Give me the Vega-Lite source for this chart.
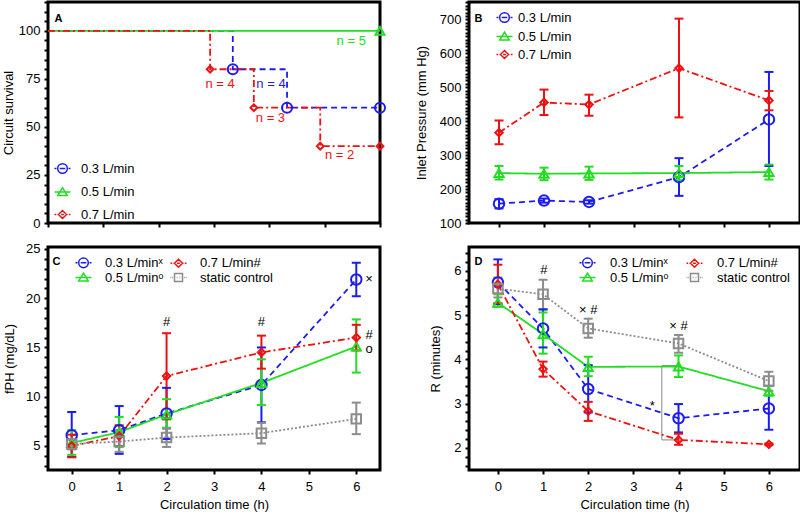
{
  "$schema": "https://vega.github.io/schema/vega-lite/v6.json",
  "background": "white",
  "padding": {"left": 0, "top": -6, "right": 0, "bottom": 0},
  "config": {
    "font": "Liberation Sans",
    "view": {"stroke": "black", "strokeWidth": 3},
    "axis": {"domain": false, "grid": false, "tickColor": "black", "tickWidth": 2, "tickSize": 4, "labelFontSize": 13, "titleFontSize": 13, "titleFontWeight": "normal", "labelColor": "black", "titleColor": "black", "labelFont": "Liberation Sans", "titleFont": "Liberation Sans", "labelPadding": 4, "labelOverlap": false, "labelFlush": false, "labelBound": false},
    "axisX": {"labelPadding": 6, "titlePadding": 5},
    "legend": {"padding": 0, "labelFontSize": 13, "labelFont": "Liberation Sans", "labelColor": "black", "symbolSize": 64, "symbolStrokeWidth": 1.5}
  },
  "datasets": {
    "A_surv": [
      {"s": "0.3 L/min", "t": 0, "v": 100, "ev": false},
      {"s": "0.3 L/min", "t": 3.34, "v": 80, "ev": true},
      {"s": "0.3 L/min", "t": 4.32, "v": 60, "ev": true},
      {"s": "0.3 L/min", "t": 6, "v": 60, "ev": true},
      {"s": "0.5 L/min", "t": 0, "v": 100, "ev": false},
      {"s": "0.5 L/min", "t": 6, "v": 100, "ev": true},
      {"s": "0.7 L/min", "t": 0, "v": 100, "ev": false},
      {"s": "0.7 L/min", "t": 2.93, "v": 80, "ev": true},
      {"s": "0.7 L/min", "t": 3.72, "v": 60, "ev": true},
      {"s": "0.7 L/min", "t": 4.92, "v": 40, "ev": true},
      {"s": "0.7 L/min", "t": 6, "v": 40, "ev": true}
    ],
    "A_txt": [
      {"s": "0.5 L/min", "t": 5.48, "v": 94.7, "txt": "n = 5"},
      {"s": "0.7 L/min", "t": 3.11, "v": 72.5, "txt": "n = 4"},
      {"s": "0.3 L/min", "t": 4.03, "v": 72.5, "txt": "n = 4"},
      {"s": "0.7 L/min", "t": 4.02, "v": 54.6, "txt": "n = 3"},
      {"s": "0.7 L/min", "t": 5.27, "v": 35.2, "txt": "n = 2"}
    ],
    "B": [
      {"s": "0.3 L/min", "t": 0, "m": 157, "lo": 143, "hi": 170},
      {"s": "0.3 L/min", "t": 1, "m": 166, "lo": 160, "hi": 172},
      {"s": "0.3 L/min", "t": 2, "m": 162, "lo": 157, "hi": 167},
      {"s": "0.3 L/min", "t": 4, "m": 235, "lo": 180, "hi": 291},
      {"s": "0.3 L/min", "t": 6, "m": 405, "lo": 268, "hi": 545},
      {"s": "0.5 L/min", "t": 0, "m": 247, "lo": 228, "hi": 268},
      {"s": "0.5 L/min", "t": 1, "m": 245, "lo": 226, "hi": 263},
      {"s": "0.5 L/min", "t": 2, "m": 246, "lo": 227, "hi": 266},
      {"s": "0.5 L/min", "t": 4, "m": 247, "lo": 226, "hi": 268},
      {"s": "0.5 L/min", "t": 6, "m": 250, "lo": 228, "hi": 272},
      {"s": "0.7 L/min", "t": 0, "m": 366, "lo": 332, "hi": 402},
      {"s": "0.7 L/min", "t": 1, "m": 455, "lo": 418, "hi": 493},
      {"s": "0.7 L/min", "t": 2, "m": 449, "lo": 416, "hi": 478},
      {"s": "0.7 L/min", "t": 4, "m": 556, "lo": 411, "hi": 702},
      {"s": "0.7 L/min", "t": 6, "m": 461, "lo": 432, "hi": 489}
    ],
    "C": [
      {"s": "0.3 L/min", "t": 0, "m": 6.1, "lo": 3.9, "hi": 8.45},
      {"s": "0.3 L/min", "t": 1, "m": 6.6, "lo": 4.2, "hi": 9.05},
      {"s": "0.3 L/min", "t": 2, "m": 8.3, "lo": 5.7, "hi": 10.9},
      {"s": "0.3 L/min", "t": 4, "m": 11.2, "lo": 7.4, "hi": 15.0},
      {"s": "0.3 L/min", "t": 6, "m": 21.9, "lo": 20.2, "hi": 23.6},
      {"s": "0.5 L/min", "t": 0, "m": 5.3, "lo": 4.1, "hi": 6.6},
      {"s": "0.5 L/min", "t": 1, "m": 6.4, "lo": 4.9, "hi": 7.95},
      {"s": "0.5 L/min", "t": 2, "m": 8.2, "lo": 6.85, "hi": 9.75},
      {"s": "0.5 L/min", "t": 4, "m": 11.4, "lo": 9.15, "hi": 13.8},
      {"s": "0.5 L/min", "t": 6, "m": 15.1, "lo": 12.45, "hi": 17.85},
      {"s": "0.7 L/min", "t": 0, "m": 5.0, "lo": 3.85, "hi": 6.15},
      {"s": "0.7 L/min", "t": 1, "m": 6.0, "lo": 5.0, "hi": 7.1},
      {"s": "0.7 L/min", "t": 2, "m": 12.1, "lo": 7.7, "hi": 16.45},
      {"s": "0.7 L/min", "t": 4, "m": 14.5, "lo": 12.85, "hi": 16.2},
      {"s": "0.7 L/min", "t": 6, "m": 16.0, "lo": 14.7, "hi": 17.3},
      {"s": "static control", "t": 0, "m": 5.2, "lo": 4.65, "hi": 5.65},
      {"s": "static control", "t": 1, "m": 5.45, "lo": 4.4, "hi": 6.6},
      {"s": "static control", "t": 2, "m": 5.85, "lo": 4.9, "hi": 6.75},
      {"s": "static control", "t": 4, "m": 6.3, "lo": 5.25, "hi": 7.35},
      {"s": "static control", "t": 6, "m": 7.75, "lo": 6.2, "hi": 9.4}
    ],
    "C_txt": [
      {"t": 2, "m": 17.6, "txt": "#"},
      {"t": 4, "m": 17.6, "txt": "#"},
      {"t": 6.27, "m": 22, "txt": "×"},
      {"t": 6.27, "m": 16.3, "txt": "#"},
      {"t": 6.27, "m": 14.8, "txt": "o"}
    ],
    "D": [
      {"s": "0.3 L/min", "t": 0, "m": 5.74, "lo": 5.25, "hi": 6.26},
      {"s": "0.3 L/min", "t": 1, "m": 4.7, "lo": 4.27, "hi": 5.13},
      {"s": "0.3 L/min", "t": 2, "m": 3.33, "lo": 2.8, "hi": 3.87},
      {"s": "0.3 L/min", "t": 4, "m": 2.67, "lo": 2.35, "hi": 2.99},
      {"s": "0.3 L/min", "t": 6, "m": 2.89, "lo": 2.41, "hi": 3.4},
      {"s": "0.5 L/min", "t": 0, "m": 5.28, "lo": 5.19, "hi": 5.47},
      {"s": "0.5 L/min", "t": 1, "m": 4.57, "lo": 4.13, "hi": 5.06},
      {"s": "0.5 L/min", "t": 2, "m": 3.83, "lo": 3.62, "hi": 4.06},
      {"s": "0.5 L/min", "t": 4, "m": 3.84, "lo": 3.6, "hi": 4.09},
      {"s": "0.5 L/min", "t": 6, "m": 3.28, "lo": 3.18, "hi": 3.4},
      {"s": "0.7 L/min", "t": 0, "m": 5.7, "lo": 5.27, "hi": 6.14},
      {"s": "0.7 L/min", "t": 1, "m": 3.78, "lo": 3.61, "hi": 3.95},
      {"s": "0.7 L/min", "t": 2, "m": 2.83, "lo": 2.61, "hi": 3.04},
      {"s": "0.7 L/min", "t": 4, "m": 2.18, "lo": 2.07, "hi": 2.32},
      {"s": "0.7 L/min", "t": 6, "m": 2.08, "lo": 2.06, "hi": 2.1},
      {"s": "static control", "t": 0, "m": 5.6, "lo": 5.4, "hi": 5.85},
      {"s": "static control", "t": 1, "m": 5.47, "lo": 5.13, "hi": 5.8},
      {"s": "static control", "t": 2, "m": 4.7, "lo": 4.49, "hi": 4.92},
      {"s": "static control", "t": 4, "m": 4.36, "lo": 4.15, "hi": 4.55},
      {"s": "static control", "t": 6, "m": 3.51, "lo": 3.29, "hi": 3.72}
    ],
    "D_txt": [
      {"t": 1.02, "m": 6.02, "txt": "#"},
      {"t": 2, "m": 5.11, "txt": "× #"},
      {"t": 4, "m": 4.76, "txt": "× #"},
      {"t": 3.42, "m": 2.95, "txt": "*"}
    ],
    "D_br": [
      {"t": 4, "m": 3.86, "o": 0},
      {"t": 3.63, "m": 3.86, "o": 1},
      {"t": 3.63, "m": 2.18, "o": 2},
      {"t": 4, "m": 2.18, "o": 3}
    ]
  },
  "columns": 2,
  "spacing": {"row": 24, "column": 89},
  "bounds": "flush",
  "align": "each",
  "resolve": {"scale": {"color": "independent", "fill": "independent", "shape": "independent", "strokeDash": "independent", "size": "independent"}, "legend": {"color": "independent"}},
  "concat": [
    {
      "width": 332, "height": 221,
      "encoding": {
        "x": {"field": "t", "type": "quantitative", "scale": {"domain": [0, 6], "nice": false, "zero": false}, "axis": {"orient": "bottom", "values": [0, 1, 2, 3, 4, 5, 6], "labels": false, "title": null}},
        "y": {"field": "v", "type": "quantitative", "scale": {"domain": [0, 115], "nice": false, "zero": false}, "axis": {"title": "Circuit survival", "titlePadding": 3, "values": [0,5,10,15,20,25,30,35,40,45,50,55,60,65,70,75,80,85,90,95,100,105,110,115], "labelExpr": "datum.value % 25 === 0 ? datum.label : ''"}}
      },
      "layer": [
        {
          "data": {"name": "A_surv"},
          "mark": {"type": "line", "interpolate": "step-after", "strokeWidth": 1.8},
          "encoding": {
            "color": {"field": "s", "type": "nominal", "scale": {"domain": ["0.3 L/min", "0.5 L/min", "0.7 L/min"], "range": ["#1c1cf0", "#22dd22", "#ee1111"]}, "legend": {"title": null, "orient": "none", "legendX": 8, "legendY": 160, "rowPadding": 7.5, "labelOffset": 12, "encode": {"symbols": {"update": {"size": {"value": 64}, "fill": {"value": "transparent"}, "strokeWidth": {"value": 1.5}, "strokeDash": {"value": []}, "shape": {"signal": "datum.value === '0.3 L/min' ? 'M-2,0H-1.5M-1.2,0A1.2,1.2 0 1,1 1.2,0A1.2,1.2 0 1,1 -1.2,0M-0.7,0H0.7M1.5,0H2' : datum.value === '0.5 L/min' ? 'M-2,0H2M0,-1.1L1.2,0.9L-1.2,0.9Z' : datum.value === '0.7 L/min' ? 'M-2,0H-1.6M-1.4,0H-1.3M-1,0L0,-1L1,0L0,1ZM-0.35,0H0.35M1.3,0H1.4M1.6,0H2' : 'M-2,0H-1.8M-1.55,0H-1.35M-1,-1H1V1H-1ZM-0.45,0H-0.25M0.25,0H0.45M1.35,0H1.55M1.8,0H2'"}}}}}},
            "strokeDash": {"field": "s", "type": "nominal", "scale": {"domain": ["0.3 L/min", "0.5 L/min", "0.7 L/min", "~"], "range": [[6, 4], [1, 0], [7, 3, 2, 3], [1, 0]]}, "legend": null}
          }
        },
        {
          "data": {"name": "A_surv"},
          "transform": [{"filter": "datum.ev"}],
          "mark": {"type": "point", "filled": false, "strokeWidth": 2, "opacity": 1},
          "encoding": {
            "x": {"field": "t", "type": "quantitative", "axis": null},
            "color": {"field": "s", "type": "nominal"},
            "shape": {"field": "s", "type": "nominal", "scale": {"domain": ["0.3 L/min", "0.5 L/min", "0.7 L/min", "~"], "range": ["circle", "triangle-up", "diamond", "square"]}, "legend": null},
            "size": {"field": "s", "type": "nominal", "scale": {"type": "ordinal", "domain": ["0.3 L/min", "0.5 L/min", "0.7 L/min", "~"], "range": [100, 80, 45, 80]}, "legend": null}
          }
        },
        {
          "data": {"name": "A_txt"},
          "mark": {"type": "text", "fontSize": 13, "font": "Liberation Sans", "baseline": "middle", "align": "center"},
          "encoding": {
            "x": {"field": "t", "type": "quantitative", "axis": {"orient": "top", "title": "A", "labels": false, "ticks": false, "domain": false, "grid": false, "titleX": 10, "titleY": 16, "titleAlign": "center", "titleBaseline": "middle", "titleAngle": 0, "titleFontWeight": "bold", "titleFontSize": 11, "titlePadding": 0}},
            "text": {"field": "txt", "type": "nominal"},
            "fill": {"field": "s", "type": "nominal", "scale": {"domain": ["0.3 L/min", "0.5 L/min", "0.7 L/min", "~"], "range": ["#1c1cf0", "#22dd22", "#ee1111", "#000000"]}, "legend": null}
          }
        }
      ]
    },
    {
      "width": 331, "height": 221,
      "data": {"name": "B"},
      "encoding": {
        "x": {"field": "t", "type": "quantitative", "scale": {"domain": [-0.667, 6.69], "nice": false, "zero": false}, "axis": {"orient": "bottom", "values": [0, 1, 2, 3, 4, 5, 6], "labels": false, "title": null}},
        "y": {"field": "m", "type": "quantitative", "scale": {"domain": [100, 751], "nice": false, "zero": false}, "axis": {"title": "Inlet Pressure (mm Hg)", "titlePadding": 11, "values": [100,110,120,130,140,150,160,170,180,190,200,210,220,230,240,250,260,270,280,290,300,310,320,330,340,350,360,370,380,390,400,410,420,430,440,450,460,470,480,490,500,510,520,530,540,550,560,570,580,590,600,610,620,630,640,650,660,670,680,690,700,710,720,730,740,750], "labelExpr": "datum.value % 100 === 0 ? datum.label : ''"}}
      },
      "layer": [
        {
          "mark": {"type": "line", "strokeWidth": 1.8},
          "encoding": {
            "color": {"field": "s", "type": "nominal", "scale": {"domain": ["0.3 L/min", "0.5 L/min", "0.7 L/min"], "range": ["#1c1cf0", "#22dd22", "#ee1111"]}, "legend": {"title": null, "orient": "none", "legendX": 29, "legendY": 9, "rowPadding": 3, "labelOffset": 7, "encode": {"symbols": {"update": {"size": {"value": 64}, "fill": {"value": "transparent"}, "strokeWidth": {"value": 1.5}, "strokeDash": {"value": []}, "shape": {"signal": "datum.value === '0.3 L/min' ? 'M-2,0H-1.5M-1.2,0A1.2,1.2 0 1,1 1.2,0A1.2,1.2 0 1,1 -1.2,0M-0.7,0H0.7M1.5,0H2' : datum.value === '0.5 L/min' ? 'M-2,0H2M0,-1.1L1.2,0.9L-1.2,0.9Z' : datum.value === '0.7 L/min' ? 'M-2,0H-1.6M-1.4,0H-1.3M-1,0L0,-1L1,0L0,1ZM-0.35,0H0.35M1.3,0H1.4M1.6,0H2' : 'M-2,0H-1.8M-1.55,0H-1.35M-1,-1H1V1H-1ZM-0.45,0H-0.25M0.25,0H0.45M1.35,0H1.55M1.8,0H2'"}}}}}},
            "strokeDash": {"field": "s", "type": "nominal", "scale": {"domain": ["0.3 L/min", "0.5 L/min", "0.7 L/min", "~"], "range": [[6, 4], [1, 0], [7, 3, 2, 3], [1, 0]]}, "legend": null}
          }
        },
        {
          "mark": {"type": "rule", "strokeWidth": 2},
          "encoding": {"x": {"field": "t", "type": "quantitative", "axis": null}, "y": {"field": "lo", "type": "quantitative"}, "y2": {"field": "hi"}, "color": {"field": "s", "type": "nominal"}}
        },
        {
          "mark": {"type": "rule", "strokeWidth": 2, "xOffset": -4.5, "x2Offset": 4.5},
          "encoding": {"x": {"field": "t", "type": "quantitative", "axis": null}, "x2": {"field": "t"}, "y": {"field": "lo", "type": "quantitative"}, "color": {"field": "s", "type": "nominal"}}
        },
        {
          "mark": {"type": "rule", "strokeWidth": 2, "xOffset": -4.5, "x2Offset": 4.5},
          "encoding": {"x": {"field": "t", "type": "quantitative", "axis": null}, "x2": {"field": "t"}, "y": {"field": "hi", "type": "quantitative"}, "color": {"field": "s", "type": "nominal"}}
        },
        {
          "mark": {"type": "point", "filled": false, "strokeWidth": 2, "opacity": 1},
          "encoding": {
            "x": {"field": "t", "type": "quantitative", "axis": {"orient": "top", "title": "B", "labels": false, "ticks": false, "domain": false, "grid": false, "titleX": 9, "titleY": 16, "titleAlign": "center", "titleBaseline": "middle", "titleAngle": 0, "titleFontWeight": "bold", "titleFontSize": 11, "titlePadding": 0}},
            "color": {"field": "s", "type": "nominal"},
            "shape": {"field": "s", "type": "nominal", "scale": {"domain": ["0.3 L/min", "0.5 L/min", "0.7 L/min", "~"], "range": ["circle", "triangle-up", "diamond", "square"]}, "legend": null},
            "size": {"field": "s", "type": "nominal", "scale": {"type": "ordinal", "domain": ["0.3 L/min", "0.5 L/min", "0.7 L/min", "~"], "range": [110, 85, 55, 80]}, "legend": null}
          }
        }
      ]
    },
    {
      "width": 332, "height": 223,
      "encoding": {
        "x": {"field": "t", "type": "quantitative", "scale": {"domain": [-0.5, 6.5], "nice": false, "zero": false}, "axis": {"orient": "bottom", "values": [0, 1, 2, 3, 4, 5, 6], "format": "d", "title": "Circulation time (h)"}},
        "y": {"field": "m", "type": "quantitative", "scale": {"domain": [2.56, 25.2], "nice": false, "zero": false}, "axis": {"title": "fPH (mg/dL)", "titlePadding": 9, "values": [3,4,5,6,7,8,9,10,11,12,13,14,15,16,17,18,19,20,21,22,23,24,25], "labelExpr": "datum.value % 5 === 0 ? datum.label : ''"}}
      },
      "layer": [
        {
          "data": {"name": "C"},
          "mark": {"type": "line", "strokeWidth": 1.8},
          "encoding": {
            "color": {"field": "s", "type": "nominal", "scale": {"domain": ["0.3 L/min", "0.5 L/min", "0.7 L/min", "static control"], "range": ["#1c1cf0", "#22dd22", "#ee1111", "#8c8c8c"]}, "legend": {"title": null, "orient": "none", "legendX": 29, "legendY": 9, "rowPadding": -2, "columns": 2, "columnPadding": 3, "labelOffset": 15, "labelExpr": "datum.label === '0.3 L/min' ? '0.3 L/minˣ' : datum.label === '0.7 L/min' ? '0.7 L/min#' : datum.label === '0.5 L/min' ? '0.5 L/minᵒ' : datum.label", "encode": {"symbols": {"update": {"size": {"value": 64}, "fill": {"value": "transparent"}, "strokeWidth": {"value": 1.5}, "strokeDash": {"value": []}, "shape": {"signal": "datum.value === '0.3 L/min' ? 'M-2,0H-1.5M-1.2,0A1.2,1.2 0 1,1 1.2,0A1.2,1.2 0 1,1 -1.2,0M-0.7,0H0.7M1.5,0H2' : datum.value === '0.5 L/min' ? 'M-2,0H2M0,-1.1L1.2,0.9L-1.2,0.9Z' : datum.value === '0.7 L/min' ? 'M-2,0H-1.6M-1.4,0H-1.3M-1,0L0,-1L1,0L0,1ZM-0.35,0H0.35M1.3,0H1.4M1.6,0H2' : 'M-2,0H-1.8M-1.55,0H-1.35M-1,-1H1V1H-1ZM-0.45,0H-0.25M0.25,0H0.45M1.35,0H1.55M1.8,0H2'"}}}}}},
            "strokeDash": {"field": "s", "type": "nominal", "scale": {"domain": ["0.3 L/min", "0.5 L/min", "0.7 L/min", "static control", "~"], "range": [[6, 4], [1, 0], [7, 3, 2, 3], [2, 2], [1, 0]]}, "legend": null}
          }
        },
        {
          "data": {"name": "C"},
          "mark": {"type": "rule", "strokeWidth": 2},
          "encoding": {"x": {"field": "t", "type": "quantitative", "axis": null}, "y": {"field": "lo", "type": "quantitative"}, "y2": {"field": "hi"}, "color": {"field": "s", "type": "nominal"}}
        },
        {
          "data": {"name": "C"},
          "mark": {"type": "rule", "strokeWidth": 2, "xOffset": -4.5, "x2Offset": 4.5},
          "encoding": {"x": {"field": "t", "type": "quantitative", "axis": null}, "x2": {"field": "t"}, "y": {"field": "lo", "type": "quantitative"}, "color": {"field": "s", "type": "nominal"}}
        },
        {
          "data": {"name": "C"},
          "mark": {"type": "rule", "strokeWidth": 2, "xOffset": -4.5, "x2Offset": 4.5},
          "encoding": {"x": {"field": "t", "type": "quantitative", "axis": null}, "x2": {"field": "t"}, "y": {"field": "hi", "type": "quantitative"}, "color": {"field": "s", "type": "nominal"}}
        },
        {
          "data": {"name": "C"},
          "mark": {"type": "point", "filled": false, "strokeWidth": 2, "opacity": 1},
          "encoding": {
            "x": {"field": "t", "type": "quantitative", "axis": null},
            "color": {"field": "s", "type": "nominal"},
            "shape": {"field": "s", "type": "nominal", "scale": {"domain": ["0.3 L/min", "0.5 L/min", "0.7 L/min", "static control", "~"], "range": ["circle", "triangle-up", "diamond", "square", "cross"]}, "legend": null},
            "size": {"field": "s", "type": "nominal", "scale": {"type": "ordinal", "domain": ["0.3 L/min", "0.5 L/min", "0.7 L/min", "static control", "~"], "range": [110, 85, 55, 90, 80]}, "legend": null}
          }
        },
        {
          "data": {"name": "C_txt"},
          "mark": {"type": "text", "fontSize": 13, "font": "Liberation Sans", "baseline": "middle", "align": "center", "color": "black"},
          "encoding": {
            "x": {"field": "t", "type": "quantitative", "axis": {"orient": "top", "title": "C", "labels": false, "ticks": false, "domain": false, "grid": false, "titleX": 8, "titleY": 14, "titleAlign": "center", "titleBaseline": "middle", "titleAngle": 0, "titleFontWeight": "bold", "titleFontSize": 11, "titlePadding": 0}},
            "text": {"field": "txt", "type": "nominal"}
          }
        }
      ]
    },
    {
      "width": 331, "height": 223,
      "encoding": {
        "x": {"field": "t", "type": "quantitative", "scale": {"domain": [-0.64, 6.69], "nice": false, "zero": false}, "axis": {"orient": "bottom", "values": [0, 1, 2, 3, 4, 5, 6], "format": "d", "title": "Circulation time (h)"}},
        "y": {"field": "m", "type": "quantitative", "scale": {"domain": [1.5, 6.54], "nice": false, "zero": false}, "axis": {"title": "R (minutes)", "titlePadding": 11, "values": [1.6,1.8,2,2.2,2.4,2.6,2.8,3,3.2,3.4,3.6,3.8,4,4.2,4.4,4.6,4.8,5,5.2,5.4,5.6,5.8,6,6.2,6.4], "labelExpr": "abs(datum.value - round(datum.value)) < 0.001 ? format(datum.value, 'd') : ''"}}
      },
      "layer": [
        {
          "data": {"name": "D_br"},
          "mark": {"type": "line", "strokeWidth": 1, "color": "#888888"},
          "encoding": {"order": {"field": "o", "type": "quantitative"}}
        },
        {
          "data": {"name": "D"},
          "mark": {"type": "line", "strokeWidth": 1.8},
          "encoding": {
            "x": {"field": "t", "type": "quantitative", "axis": null},
            "color": {"field": "s", "type": "nominal", "scale": {"domain": ["0.3 L/min", "0.5 L/min", "0.7 L/min", "static control"], "range": ["#1c1cf0", "#22dd22", "#ee1111", "#8c8c8c"]}, "legend": {"title": null, "orient": "none", "legendX": 112, "legendY": 9, "rowPadding": -2, "columns": 2, "columnPadding": 14, "labelOffset": 16, "labelExpr": "datum.label === '0.3 L/min' ? '0.3 L/minˣ' : datum.label === '0.7 L/min' ? '0.7 L/min#' : datum.label === '0.5 L/min' ? '0.5 L/minᵒ' : datum.label", "encode": {"symbols": {"update": {"size": {"value": 64}, "fill": {"value": "transparent"}, "strokeWidth": {"value": 1.5}, "strokeDash": {"value": []}, "shape": {"signal": "datum.value === '0.3 L/min' ? 'M-2,0H-1.5M-1.2,0A1.2,1.2 0 1,1 1.2,0A1.2,1.2 0 1,1 -1.2,0M-0.7,0H0.7M1.5,0H2' : datum.value === '0.5 L/min' ? 'M-2,0H2M0,-1.1L1.2,0.9L-1.2,0.9Z' : datum.value === '0.7 L/min' ? 'M-2,0H-1.6M-1.4,0H-1.3M-1,0L0,-1L1,0L0,1ZM-0.35,0H0.35M1.3,0H1.4M1.6,0H2' : 'M-2,0H-1.8M-1.55,0H-1.35M-1,-1H1V1H-1ZM-0.45,0H-0.25M0.25,0H0.45M1.35,0H1.55M1.8,0H2'"}}}}}},
            "strokeDash": {"field": "s", "type": "nominal", "scale": {"domain": ["0.3 L/min", "0.5 L/min", "0.7 L/min", "static control", "~"], "range": [[6, 4], [1, 0], [7, 3, 2, 3], [2, 2], [1, 0]]}, "legend": null}
          }
        },
        {
          "data": {"name": "D"},
          "mark": {"type": "rule", "strokeWidth": 2},
          "encoding": {"x": {"field": "t", "type": "quantitative", "axis": null}, "y": {"field": "lo", "type": "quantitative"}, "y2": {"field": "hi"}, "color": {"field": "s", "type": "nominal"}}
        },
        {
          "data": {"name": "D"},
          "mark": {"type": "rule", "strokeWidth": 2, "xOffset": -4.5, "x2Offset": 4.5},
          "encoding": {"x": {"field": "t", "type": "quantitative", "axis": null}, "x2": {"field": "t"}, "y": {"field": "lo", "type": "quantitative"}, "color": {"field": "s", "type": "nominal"}}
        },
        {
          "data": {"name": "D"},
          "mark": {"type": "rule", "strokeWidth": 2, "xOffset": -4.5, "x2Offset": 4.5},
          "encoding": {"x": {"field": "t", "type": "quantitative", "axis": null}, "x2": {"field": "t"}, "y": {"field": "hi", "type": "quantitative"}, "color": {"field": "s", "type": "nominal"}}
        },
        {
          "data": {"name": "D"},
          "mark": {"type": "point", "filled": false, "strokeWidth": 2, "opacity": 1},
          "encoding": {
            "x": {"field": "t", "type": "quantitative", "axis": null},
            "color": {"field": "s", "type": "nominal"},
            "shape": {"field": "s", "type": "nominal", "scale": {"domain": ["0.3 L/min", "0.5 L/min", "0.7 L/min", "static control", "~"], "range": ["circle", "triangle-up", "diamond", "square", "cross"]}, "legend": null},
            "size": {"field": "s", "type": "nominal", "scale": {"type": "ordinal", "domain": ["0.3 L/min", "0.5 L/min", "0.7 L/min", "static control", "~"], "range": [110, 85, 55, 90, 80]}, "legend": null}
          }
        },
        {
          "data": {"name": "D_txt"},
          "mark": {"type": "text", "fontSize": 13, "font": "Liberation Sans", "baseline": "middle", "align": "center", "color": "black"},
          "encoding": {
            "x": {"field": "t", "type": "quantitative", "axis": {"orient": "top", "title": "D", "labels": false, "ticks": false, "domain": false, "grid": false, "titleX": 9, "titleY": 14, "titleAlign": "center", "titleBaseline": "middle", "titleAngle": 0, "titleFontWeight": "bold", "titleFontSize": 11, "titlePadding": 0}},
            "text": {"field": "txt", "type": "nominal"}
          }
        }
      ]
    }
  ]
}
